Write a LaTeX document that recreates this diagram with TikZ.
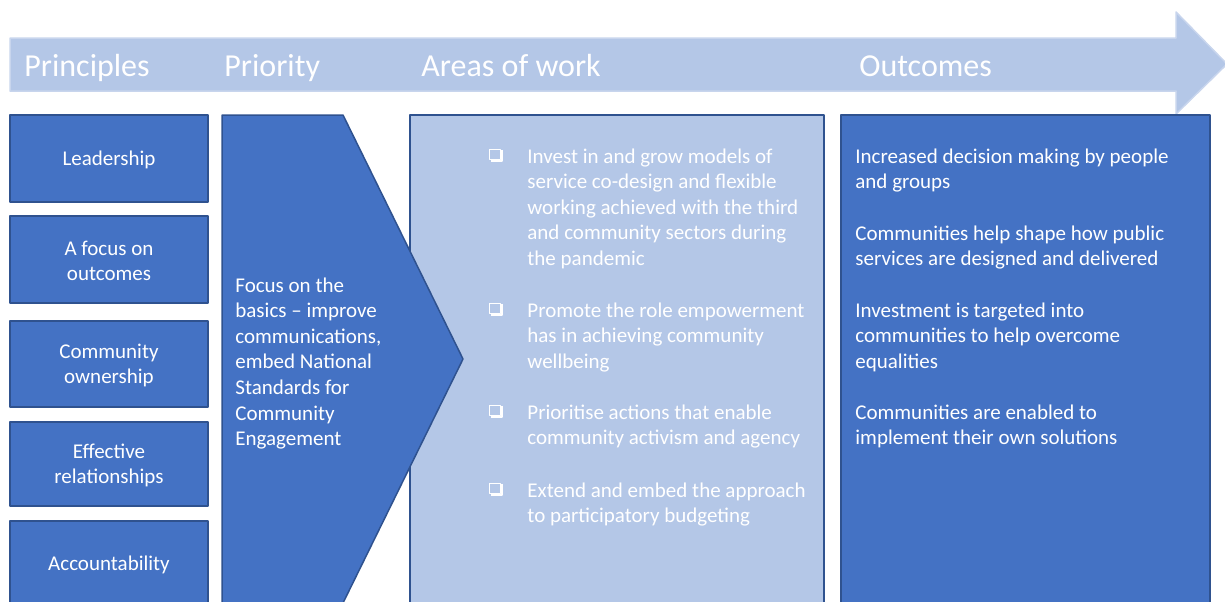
\documentclass[tikz,border=0pt]{standalone}
\usepackage{fontspec}
\setmainfont{Carlito}
\usepackage{xcolor}
\definecolor{darkfill}{HTML}{4472C4}
\definecolor{darkline}{HTML}{2F528F}
\definecolor{lightfill}{HTML}{B4C7E7}
\definecolor{arrowline}{HTML}{C8D5ED}

\begin{document}
\begin{tikzpicture}[line cap=round,line join=round,x=0.5pt,y=-0.5pt,
  darkbox/.style={fill=darkfill,draw=darkline,line width=0.75pt},
  lightbox/.style={fill=lightfill,draw=darkline,line width=0.75pt},
  heading/.style={text=white,font=\fontsize{16}{19}\selectfont,anchor=base west,inner sep=0pt},
  boxtext/.style={text=white,font=\fontsize{10.5}{12.8}\selectfont,align=center,inner sep=0pt},
  listtext/.style={text=white,font=\fontsize{10.5}{12.8}\selectfont,align=left,anchor=base west,inner sep=0pt}]
\useasboundingbox (0,0) rectangle (1225,601);
\clip (0,0) rectangle (1225,601);

\draw[fill=lightfill,draw=arrowline,line width=0.75pt] (10,38) -- (1176,38) -- (1176,12) -- (1227,64)
  -- (1176,114) -- (1176,91) -- (10,91) -- cycle;
\node[heading] (principles) at (24,76) {Principles};
\node[heading] (priority) at (224,76) {Priority};
\node[heading] (areas) at (421,76) {Areas of work};
\node[heading] (outcomes) at (859,76) {Outcomes};

\draw[darkbox] (10,115) rectangle (208,202);
\draw[darkbox] (10,216) rectangle (208,303);
\draw[darkbox] (10,321) rectangle (208,407);
\draw[darkbox] (10,422) rectangle (208,506);
\draw[darkbox] (10,521) rectangle (208,620);
\node[boxtext] (leadership) at (109,160) {Leadership};
\node[boxtext] (focus) at (109,261) {A focus on\\outcomes};
\node[boxtext] (ownership) at (109,365.5) {Community\\ownership};
\node[boxtext] (relationships) at (109,465.5) {Effective\\relationships};
\node[boxtext] (accountability) at (109,565) {Accountability};

% last baselines
\draw[lightbox] (410,115) rectangle (824,620);
\foreach \y in {163,317,419,497}
{
\draw[white,line width=0.5pt,line cap=butt] (489.5,\y-14) rectangle (500,\y-3.5);
\draw[white,line width=1.2pt,line cap=butt] (491,\y-2.2) -- (502.2,\y-2.2) -- (502.2,\y-13);
}
\node[listtext] (invest) at (527,265.4) {Invest in and grow models of\\service co-design and flexible\\working achieved with the third\\and community sectors during\\the pandemic};
\node[listtext] (promote) at (527,368.2) {Promote the role empowerment\\has in achieving community\\wellbeing};
\node[listtext] (prioritise) at (527,444.6) {Prioritise actions that enable\\community activism and agency};
\node[listtext] (extend) at (527,522.6) {Extend and embed the approach\\to participatory budgeting};

\draw[darkbox] (222,115) -- (343,115) -- (463,359) -- (343,603) -- (222,603) -- (222,115) -- cycle;
\node[listtext] (basics) at (235,445.6) {Focus on the\\basics -- improve\\communications,\\embed National\\Standards for\\Community\\Engagement};

\draw[darkbox] (841,115) rectangle (1210,620);
\node[listtext] (decision) at (855,188.6) {Increased decision making by people\\and groups};
\node[listtext] (shape) at (855,265.6) {Communities help shape how public\\services are designed and delivered};
\node[listtext] (investment) at (855,368.2) {Investment is targeted into\\communities to help overcome\\equalities};
\node[listtext] (enabled) at (855,444.6) {Communities are enabled to\\implement their own solutions};

\end{tikzpicture}
\end{document}
